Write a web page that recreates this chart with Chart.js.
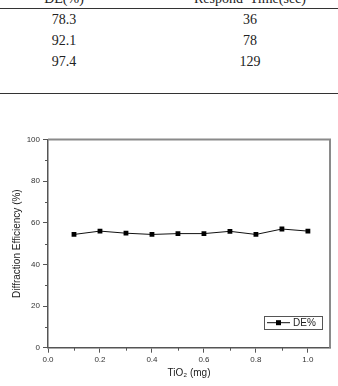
<!DOCTYPE html>
<html>
<head>
<meta charset="utf-8">
<script src="https://cdn.jsdelivr.net/npm/chart.js@4"></script>
<style>
  html, body { margin: 0; padding: 0; background: #fff; }
  body { width: 338px; height: 386px; position: relative; overflow: hidden; }
  #chart { position: absolute; left: 0; top: 0; }
  .tbl { position: absolute; left: 0; top: 0; width: 338px; height: 100px;
         font-family: "Liberation Serif", "Times New Roman", serif; font-size: 14px; color: #222; }
  .rule { position: absolute; left: 0; width: 338px; height: 1.3px; background: #333; }
  .cell { position: absolute; text-align: center; line-height: 21px; white-space: pre; }
</style>
</head>
<body>
<div class="tbl" id="tbl"></div>
<canvas id="chart" width="338" height="386"></canvas>
<script>
// table above the chart (cut off at the top of the picture)
const tableHeaders = ["DE(%)", "Respond  Time(sec)"];
const tableDE = ["78.3", "92.1", "97.4"];
const tableTime = ["36", "78", "129"];

// chart data
const tio2 = [0.1, 0.2, 0.3, 0.4, 0.5, 0.6, 0.7, 0.8, 0.9, 1.0];
const dePercent = [54.4, 56.0, 55.0, 54.4, 54.8, 54.8, 55.9, 54.4, 57.0, 56.0];
const xTickValues = [0, 0.2, 0.4, 0.6, 0.8, 1.0];
const xMinorTicks = [0.1, 0.3, 0.5, 0.7, 0.9];
const yTickValues = [0, 20, 40, 60, 80, 100];
const yMinorTicks = [10, 30, 50, 70, 90];

// build table
const tbl = document.getElementById("tbl");
const cols = [{ left: 14, width: 100 }, { left: 175, width: 150 }];
function addCell(text, col, top) {
  const d = document.createElement("div");
  d.className = "cell";
  d.style.left = cols[col].left + "px";
  d.style.width = cols[col].width + "px";
  d.style.top = top + "px";
  d.textContent = text;
  tbl.appendChild(d);
}
tableHeaders.forEach((h, i) => addCell(h, i, -12.5));
tableDE.forEach((v, i) => {
  addCell(v, 0, 9.4 + i * 21);
  addCell(tableTime[i], 1, 9.4 + i * 21);
});
[8, 92.7].forEach((y) => {
  const r = document.createElement("div");
  r.className = "rule";
  r.style.top = y + "px";
  tbl.appendChild(r);
});

// minor ticks, top/right frame and legend box inside the plot
const framePlugin = {
  id: "frame",
  afterDraw(chart) {
    const { ctx, chartArea: a, scales } = chart;
    ctx.save();
    // top and right frame lines
    ctx.strokeStyle = "#8a8a8a";
    ctx.lineWidth = 2;
    ctx.beginPath();
    ctx.moveTo(a.left, a.top);
    ctx.lineTo(a.right, a.top);
    ctx.lineTo(a.right, a.bottom);
    ctx.stroke();

    // minor ticks
    ctx.strokeStyle = "#555";
    ctx.lineWidth = 1;
    ctx.beginPath();
    xMinorTicks.forEach((v) => {
      const x = Math.round(scales.x.getPixelForValue(v)) + 0.5;
      ctx.moveTo(x, a.bottom);
      ctx.lineTo(x, a.bottom + 3);
    });
    yMinorTicks.forEach((v) => {
      const y = Math.round(scales.y.getPixelForValue(v)) + 0.5;
      ctx.moveTo(a.left, y);
      ctx.lineTo(a.left - 3, y);
    });
    ctx.stroke();

    // legend
    const ds = chart.data.datasets[0];
    const bw = 58, bh = 13;
    const bx = a.right - 8 - bw, by = a.bottom - 19 - bh;
    ctx.strokeStyle = "#555";
    ctx.lineWidth = 1;
    ctx.strokeRect(Math.round(bx) + 0.5, Math.round(by) + 0.5, bw, bh);
    const cy = by + bh / 2 + 0.5;
    ctx.strokeStyle = ds.borderColor;
    ctx.beginPath();
    ctx.moveTo(bx + 3, cy);
    ctx.lineTo(bx + 26, cy);
    ctx.stroke();
    ctx.fillStyle = ds.pointBackgroundColor;
    ctx.fillRect(bx + 12, cy - 2.5, 5, 5);
    ctx.fillStyle = "#222";
    ctx.font = "10px 'Liberation Sans', Arial, sans-serif";
    ctx.textBaseline = "middle";
    ctx.fillText(ds.label, bx + 29, cy + 0.5);
    ctx.restore();
  },
};

new Chart(document.getElementById("chart"), {
  type: "line",
  data: {
    datasets: [
      {
        label: "DE%",
        data: tio2.map((x, i) => ({ x: x, y: dePercent[i] })),
        borderColor: "#111",
        borderWidth: 1,
        pointStyle: "rect",
        pointRadius: 3.4,
        pointBackgroundColor: "#000",
        pointBorderColor: "#000",
        pointBorderWidth: 0,
        tension: 0,
      },
    ],
  },
  options: {
    responsive: false,
    animation: false,
    layout: { padding: { top: 139.5, right: 8, left: 0, bottom: 0 } },
    plugins: { legend: { display: false }, tooltip: { enabled: false } },
    scales: {
      x: {
        type: "linear",
        min: 0,
        max: 1.085,
        afterBuildTicks: (s) => { s.ticks = xTickValues.map((v) => ({ value: v })); },
        afterFit: (s) => { s.height = 38.3; },
        ticks: {
          callback: (v) => Number(v).toFixed(1),
          color: "#333",
          font: { family: "'Liberation Sans', Arial, sans-serif", size: 8 },
          padding: 2,
          maxRotation: 0,
        },
        grid: { drawOnChartArea: false, tickLength: 5, color: "#555" },
        border: { color: "#555", width: 1.5 },
        title: {
          display: true,
          text: "TiO\u2082 (mg)",
          color: "#222",
          font: { family: "'Liberation Sans', Arial, sans-serif", size: 10 },
          padding: { top: 0, bottom: 7 },
        },
      },
      y: {
        min: 0,
        max: 100,
        afterBuildTicks: (s) => { s.ticks = yTickValues.map((v) => ({ value: v })); },
        afterFit: (s) => { s.width = 48; },
        ticks: {
          color: "#333",
          font: { family: "'Liberation Sans', Arial, sans-serif", size: 8 },
          padding: 3,
        },
        grid: { drawOnChartArea: false, tickLength: 5, color: "#555" },
        border: { color: "#555", width: 1.5 },
        title: {
          display: true,
          text: "Diffraction Efficiency (%)",
          color: "#222",
          font: { family: "'Liberation Sans', Arial, sans-serif", size: 10 },
          padding: { top: 11, bottom: 0 },
        },
      },
    },
  },
  plugins: [framePlugin],
});
</script>
</body>
</html>
